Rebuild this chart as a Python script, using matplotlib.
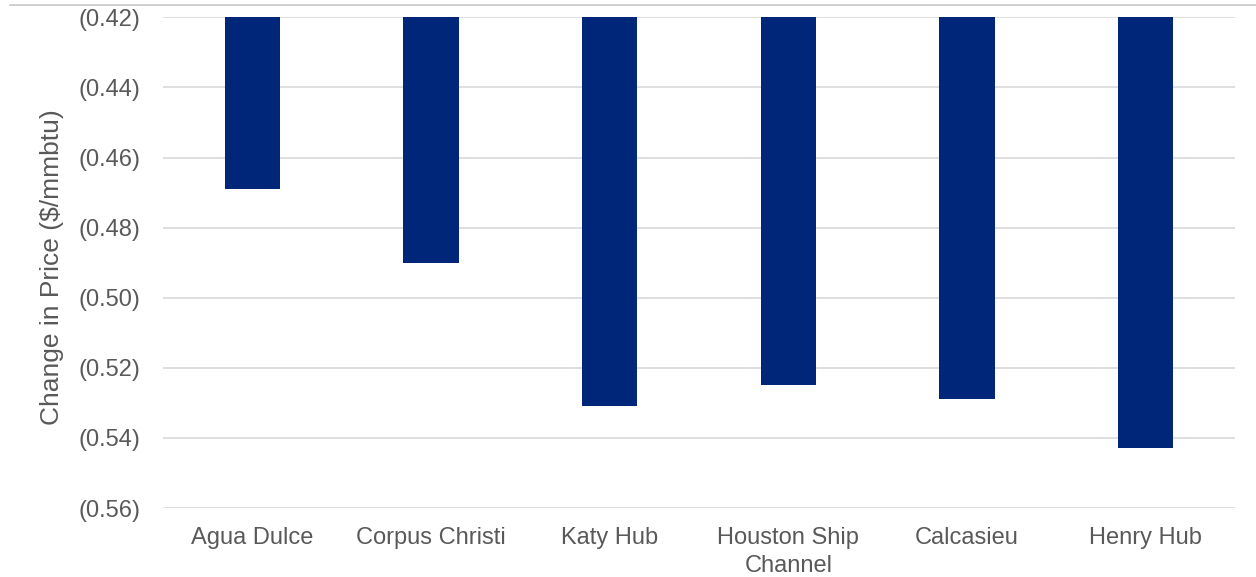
import matplotlib
matplotlib.use("Agg")
import matplotlib.pyplot as plt
from matplotlib.lines import Line2D
from matplotlib.ticker import FuncFormatter, MultipleLocator

# Price change by trading hub ($/mmbtu)
hubs = ["Agua Dulce", "Corpus Christi", "Katy Hub", "Houston Ship\nChannel", "Calcasieu", "Henry Hub"]
price_change = [-0.469, -0.490, -0.531, -0.525, -0.529, -0.543]
axis_top = -0.42
axis_bottom = -0.56

plt.rcParams["font.family"] = ["Liberation Sans", "DejaVu Sans"]

fig = plt.figure(figsize=(12.56, 5.77), dpi=100)
ax = fig.add_axes([163 / 1256, 1 - 508 / 577, (1235 - 163) / 1256, (508 - 17.3) / 577])

x = range(len(hubs))
heights = [v - axis_top for v in price_change]
ax.bar(x, heights, bottom=axis_top, width=0.31, color="#00267A", zorder=3)

ax.set_xlim(-0.5, len(hubs) - 0.5)
ax.set_ylim(axis_bottom, axis_top)
ax.yaxis.set_major_locator(MultipleLocator(0.02))
ax.yaxis.set_major_formatter(FuncFormatter(lambda v, _: f"({abs(v):.2f})" if v < 0 else f"{v:.2f}"))

ax.set_xticks(list(x))
ax.set_xticklabels(hubs, linespacing=1.35)

ax.grid(axis="y", color="#d9d9d9", linewidth=1.2, zorder=0)
for s in ax.spines.values():
    s.set_visible(False)
ax.tick_params(axis="both", length=0, labelsize=17, colors="#595959")
ax.tick_params(axis="y", pad=16)
ax.tick_params(axis="x", pad=14)

fig.text(52 / 1256, 1 - 267 / 577, "Change in Price ($/mmbtu)", rotation=90,
         ha="center", va="center", fontsize=19, color="#595959")

fig.add_artist(Line2D([10 / 1256, 1.0], [1 - 5 / 577, 1 - 5 / 577], transform=fig.transFigure,
                      color="#c8c8c8", linewidth=1.2))

fig.savefig("out.png", dpi=100, facecolor="white")
